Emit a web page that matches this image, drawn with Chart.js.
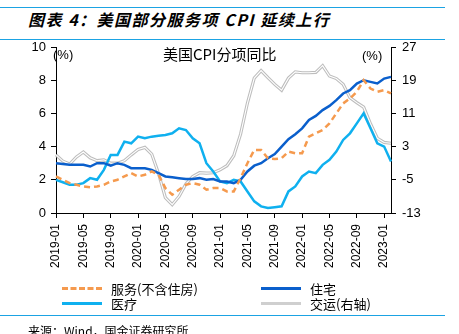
<!DOCTYPE html>
<html>
<head>
<meta charset="utf-8">
<script src="https://cdn.jsdelivr.net/npm/chart.js@4.4.1/dist/chart.umd.min.js"></script>
<style>
  html,body{margin:0;padding:0;background:#fff;}
  body{width:459px;height:334px;position:relative;overflow:hidden;font-family:"Liberation Sans",Arial,sans-serif;}
  .hl{position:absolute;left:0;width:445px;height:1px;background:#1ba3e3;}
  #title{position:absolute;left:28px;top:7px;font:italic bold 16px "Noto Sans CJK SC","Liberation Sans",sans-serif;color:#000;white-space:nowrap;letter-spacing:1.5px;}
  #source{position:absolute;left:28px;top:322px;font:12px "Noto Sans CJK SC",sans-serif;color:#000;white-space:nowrap;}
  #wrap{position:absolute;left:0;top:0;width:459px;height:334px;}
  .txt{position:absolute;white-space:nowrap;color:#000;}
  .leg{position:absolute;display:flex;align-items:center;font:13px "Noto Sans CJK SC",sans-serif;color:#000;white-space:nowrap;}
  .leg .sw{width:40px;height:0;margin-right:9px;}
</style>
</head>
<body>
<div class="hl" style="top:7px"></div>
<div id="title">图表 4：美国部分服务项 CPI 延续上行</div>
<div class="hl" style="top:39px"></div>
<div id="wrap"><canvas id="c"></canvas></div>
<div class="txt" style="left:53px;top:47px;font:13px 'Liberation Sans',sans-serif;">(%)</div>
<div class="txt" style="left:362px;top:48px;font:13px 'Liberation Sans',sans-serif;">(%)</div>
<div class="txt" style="left:163px;top:43px;font:15px 'Noto Sans CJK SC',sans-serif;">美国CPI分项同比</div>
<div id="legend"></div>
<div class="hl" style="top:315px"></div>
<div id="source">来源：Wind，国金证券研究所</div>
<script>
const labels = ['2019-01','2019-02','2019-03','2019-04','2019-05','2019-06','2019-07','2019-08','2019-09','2019-10','2019-11','2019-12',
'2020-01','2020-02','2020-03','2020-04','2020-05','2020-06','2020-07','2020-08','2020-09','2020-10','2020-11','2020-12',
'2021-01','2021-02','2021-03','2021-04','2021-05','2021-06','2021-07','2021-08','2021-09','2021-10','2021-11','2021-12',
'2022-01','2022-02','2022-03','2022-04','2022-05','2022-06','2022-07','2022-08','2022-09','2022-10','2022-11','2022-12',
'2023-01','2023-02'];
const tickLabels = ['2019-01','2019-05','2019-09','2020-01','2020-05','2020-09','2021-01','2021-05','2021-09','2022-01','2022-05','2022-09','2023-01'];

const services = [2.2,2.0,1.8,1.7,1.6,1.55,1.6,1.7,1.9,2.0, 2.2,2.4,2.2,2.3,2.5,2.3,1.5,1.1,1.4,1.7, 1.8,1.7,1.4,1.5,1.5,1.3,1.3,2.1,3.0,3.8, 3.8,3.3,3.25,3.3,3.7,3.6,3.6,4.6,4.8,5.0, 5.4,6.0,6.6,6.9,7.3,8.0,7.5,7.3,7.4,7.2];
const housing = [3.0,2.95,2.9,2.9,2.9,2.8,3.0,3.0,2.85,3.0, 2.9,2.7,2.7,2.7,2.6,2.4,2.2,2.15,2.1,2.05, 2.05,2.1,2.0,2.05,1.9,1.9,1.8,2.0,2.5,2.85, 3.0,3.3,3.55,4.0,4.45,4.75,5.1,5.6,5.85,6.2, 6.45,6.8,7.2,7.4,7.8,8.0,7.9,7.8,8.1,8.2];
const medical = [2.0,1.85,1.7,1.7,1.8,2.1,2.0,2.6,3.5,3.5, 4.3,4.2,4.6,4.5,4.6,4.65,4.7,4.8,5.1,5.0, 4.5,4.2,3.0,2.5,1.9,1.8,2.0,1.9,1.3,0.7, 0.4,0.3,0.35,0.4,1.3,1.6,2.2,2.5,2.4,2.9, 3.2,3.7,4.4,4.8,5.4,6.0,5.1,4.2,4.0,3.1];
const transport = [1.0,-0.5,-1.2,0.5,1.7,0.3,-0.4,-0.2,-1.0,-1.0, -0.4,1.0,2.3,2.8,1.2,-3.5,-9.3,-11.0,-9.0,-6.0, -4.2,-3.3,-3.4,-3.3,-2.6,-1.6,0.8,6.0,13.5,19.5, 21.3,19.6,18.0,16.6,19.5,21.0,20.8,20.8,20.9,22.5, 20.0,19.4,18.0,14.8,13.6,12.5,8.5,5.0,4.0,3.8];

const leftAxis = {min:0, max:10, step:2};
const rightAxis = {min:-13, max:27, step:8};

const C_ORANGE = '#f59a4e', C_DARK = '#0a5fcc', C_LIGHT = '#0fb0ef', C_GREY = '#bdbdbd';

const datasets = [
  {label:'服务(不含住房)', data:services, borderColor:C_ORANGE, borderWidth:2.5, borderDash:[6,4], yAxisID:'y', order:1},
  {label:'住宅', data:housing, borderColor:C_DARK, borderWidth:2.5, yAxisID:'y', order:2},
  {label:'医疗', data:medical, borderColor:C_LIGHT, borderWidth:2.5, yAxisID:'y', order:3},
  {label:'交运(右轴)', data:transport, borderColor:C_GREY, borderWidth:3.2, yAxisID:'y2', order:10},
  {label:'_inner', data:transport, borderColor:'#ffffff', borderWidth:1.1, yAxisID:'y2', order:9}
];
datasets.forEach(d=>{d.pointRadius=0; d.tension=0; d.fill=false; d.backgroundColor=d.borderColor;});

const FONT = {family:"'Liberation Sans', Arial, sans-serif", size:13};

new Chart(document.getElementById('c'), {
  type:'line',
  data:{labels:labels, datasets:datasets},
  options:{
    responsive:true, maintainAspectRatio:false, animation:false,
    layout:{padding:{left:0,right:0,top:47,bottom:61}},
    plugins:{legend:{display:false}, tooltip:{enabled:false}, title:{display:false}},
    scales:{
      x:{
        offset:false,
        grid:{display:true, drawOnChartArea:false, drawTicks:true, tickLength:5, color:'#000', lineWidth:1},
        border:{display:true, color:'#000', width:1},
        ticks:{autoSkip:false, maxRotation:90, minRotation:90, padding:6, color:'#000', font:{family:FONT.family, size:12},
          callback:function(v,i){ const l = labels[i]; return tickLabels.includes(l) ? l : null; }},
        afterFit:function(s){ s.height = 60; }
      },
      y:{
        position:'left', min:leftAxis.min, max:leftAxis.max,
        grid:{display:true, drawOnChartArea:false, drawTicks:true, tickLength:5, color:'#000'},
        border:{display:true, color:'#000', width:1},
        ticks:{stepSize:leftAxis.step, color:'#000', font:FONT, padding:5},
        afterFit:function(s){ s.width = 56; }
      },
      y2:{
        position:'right', min:rightAxis.min, max:rightAxis.max,
        grid:{display:true, drawOnChartArea:false, drawTicks:true, tickLength:5, color:'#000'},
        border:{display:true, color:'#000', width:1},
        ticks:{stepSize:rightAxis.step, color:'#000', font:FONT, padding:6},
        afterFit:function(s){ s.width = 68; }
      }
    }
  }
});

// HTML legend built from the dataset definitions
const legendPos = [
  {left:62, top:279}, {left:261, top:279}, {left:62, top:294}, {left:261, top:294}
];
const legEl = document.getElementById('legend');
datasets.filter(d=>d.label[0] !== '_').forEach((d,i)=>{
  const item = document.createElement('div');
  item.className = 'leg';
  item.style.left = legendPos[i].left + 'px';
  item.style.top = legendPos[i].top + 'px';
  const sw = document.createElement('span');
  sw.className = 'sw';
  sw.style.borderTop = '3px ' + (d.borderDash ? 'dashed ' : 'solid ') + (d.label === '交运(右轴)' ? '#cfcfcf' : d.borderColor);
  item.appendChild(sw);
  const t = document.createElement('span');
  t.textContent = d.label;
  item.appendChild(t);
  legEl.appendChild(item);
});
</script>
</body>
</html>
